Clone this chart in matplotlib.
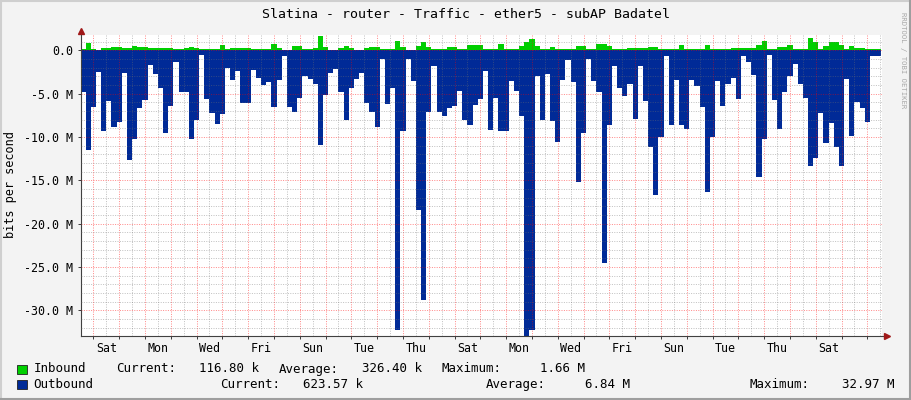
import numpy as np
import matplotlib
matplotlib.use("Agg")
import matplotlib.pyplot as plt
from matplotlib.patches import Rectangle
from matplotlib.lines import Line2D
from matplotlib.ticker import MultipleLocator, FixedLocator, FixedFormatter, FuncFormatter

# -- Data (Mbit/s, one value every ~4.8 h) --
outbound_mbps = [
    4.85, 11.5, 6.5, 2.5, 9.35, 5.8, 8.8, 8.3, 2.6, 12.7, 10.2, 6.7, 5.7, 1.7, 2.7,
    4.3, 9.6, 6.4, 1.35, 4.85, 4.85, 10.2, 8.1, 0.5, 5.6, 7.2, 8.5, 7.4, 2.0, 3.4,
    2.4, 6.1, 6.1, 2.3, 3.2, 4.0, 3.7, 6.5, 3.4, 0.7, 6.5, 7.1, 5.5,
    3.0, 3.3, 3.85, 10.9, 5.2, 2.6, 2.2, 4.85, 8.0, 4.4, 3.3, 2.6, 6.1, 7.15, 8.9,
    1.0, 6.2, 4.4, 32.3, 9.35, 1.0, 3.5, 18.46, 28.85, 7.15, 1.8, 7.15, 7.6, 6.7, 6.4,
    4.65, 8.1, 8.6, 6.35, 5.6, 2.35, 9.15, 5.5, 9.35, 9.35, 3.5, 4.7, 7.6, 32.97, 32.3,
    3.0, 8.1, 2.7, 8.2, 10.6, 3.4, 1.1, 3.7, 15.2, 9.5, 1.0, 3.6, 4.85,
    24.5, 8.6, 1.85, 4.4, 5.3, 3.9, 7.9, 1.8, 5.9, 11.15, 16.65, 10.0, 0.7, 8.6, 3.4,
    8.6, 9.1, 3.4, 4.1, 6.6, 16.4, 10.0, 3.5, 6.45, 3.95, 3.2, 5.6, 0.7, 1.3, 2.9,
    14.65, 10.2, 0.5, 5.7, 9.1, 4.85, 3.0, 1.55, 3.95, 5.5, 13.3, 12.4, 7.2, 10.7, 8.45,
    11.2, 13.4, 3.3, 9.9, 6.0, 6.7, 8.3, 0.7, 0.62,
]
inbound_mbps = [
    0.2, 0.85, 0.2, 0.08, 0.27, 0.27, 0.42, 0.42, 0.3, 0.3, 0.54, 0.35, 0.35, 0.23, 0.23,
    0.27, 0.3, 0.3, 0.15, 0.15, 0.3, 0.38, 0.3, 0.15, 0.15, 0.2, 0.2, 0.58, 0.2, 0.23,
    0.23, 0.27, 0.27, 0.2, 0.2, 0.2, 0.2, 0.73, 0.27, 0.08, 0.08, 0.46, 0.54,
    0.15, 0.2, 0.27, 1.66, 0.35, 0.08, 0.08, 0.27, 0.54, 0.27, 0.08, 0.08, 0.27, 0.42, 0.42,
    0.2, 0.2, 0.2, 1.1, 0.38, 0.08, 0.08, 0.54, 0.92, 0.38, 0.15, 0.15, 0.2, 0.35, 0.35,
    0.2, 0.2, 0.65, 0.65, 0.65, 0.2, 0.15, 0.15, 0.77, 0.15, 0.15, 0.15, 0.54, 1.0, 1.3,
    0.46, 0.15, 0.15, 0.38, 0.2, 0.2, 0.2, 0.2, 0.54, 0.46, 0.15, 0.15, 0.73,
    0.77, 0.54, 0.2, 0.2, 0.2, 0.3, 0.23, 0.23, 0.23, 0.38, 0.35, 0.2, 0.15, 0.15, 0.15,
    0.65, 0.2, 0.2, 0.2, 0.2, 0.65, 0.2, 0.2, 0.2, 0.2, 0.3, 0.23, 0.23, 0.27, 0.27,
    0.65, 1.1, 0.12, 0.12, 0.35, 0.35, 0.58, 0.15, 0.15, 0.2, 1.46, 0.92, 0.2, 0.46, 1.0,
    1.0, 0.58, 0.15, 0.46, 0.27, 0.27, 0.2, 0.12, 0.12,
]
day_labels = ["Sat", "Mon", "Wed", "Fri", "Sun", "Tue", "Thu", "Sat",
              "Mon", "Wed", "Fri", "Sun", "Tue", "Thu", "Sat"]
sample_days = 0.2      # consolidation step
span_days = 31.05      # graph starts Friday noon
y_min, y_max = -32.97, 1.76

title = "Slatina - router - Traffic - ether5 - subAP Badatel"
legend_rows = [
    ("Inbound", "#00CF00", [("Current:", 116, "116.80 k", 259),
                            ("Average:", 279, "326.40 k", 422),
                            ("Maximum:", 441, "1.66 M", 585)]),
    ("Outbound", "#002A97", [("Current:", 220, "623.57 k", 363),
                             ("Average:", 486, "6.84 M", 630),
                             ("Maximum:", 750, "32.97 M", 894)]),
]

# -- figure setup --
W, H = 911, 400
plt.rcParams["font.family"] = "DejaVu Sans Mono"
fig = plt.figure(figsize=(W / 100, H / 100), dpi=100, facecolor="#F3F3F3")


def fx(x):
    return x / W


def fy(y):
    return 1 - y / H


ax = fig.add_axes([fx(80.5), fy(336), 801 / W, 301 / H])
ax.set_facecolor("white")

n = len(outbound_mbps)
edges = np.append(np.arange(n) * sample_days, span_days)
out_vals = -np.append(outbound_mbps, outbound_mbps[-1])
in_vals = np.append(inbound_mbps, inbound_mbps[-1])
ax.fill_between(edges, 0, out_vals, step="post", color="#002A97", lw=0, zorder=1)
ax.fill_between(edges, 0, in_vals, step="post", color="#00CF00", lw=0, zorder=1)

ax.set_xlim(0, span_days)
ax.set_ylim(y_min, y_max)

# grid: red at midnights / 5 M, grey at noons / 1 M (drawn over the areas, translucent)
ax.yaxis.set_major_locator(MultipleLocator(5))
ax.yaxis.set_minor_locator(MultipleLocator(1))
ax.yaxis.set_major_formatter(FuncFormatter(lambda v, p: "0.0" if abs(v) < 1e-9 else f"{v:.1f} M"))
midnights = 0.5 + np.arange(31)
noons = np.arange(1, 32)
ax.xaxis.set_major_locator(FixedLocator(midnights))
ax.xaxis.set_major_formatter(FixedFormatter([""] * len(midnights)))
ax.xaxis.set_minor_locator(FixedLocator(noons))
noon_labels = [day_labels[(d - 1) // 2] if (d - 1) % 2 == 0 and (d - 1) // 2 < len(day_labels) else ""
               for d in noons]
ax.xaxis.set_minor_formatter(FixedFormatter(noon_labels))

dot = (0, (1, 1.4))
ax.grid(which="minor", color="#707070", alpha=0.42, ls=dot, lw=0.72, zorder=2)
ax.grid(which="major", color="#FF0000", alpha=0.45, ls=dot, lw=0.72, zorder=2)
ax.set_axisbelow(False)

for side in ("top", "right"):
    ax.spines[side].set_visible(False)
for side in ("left", "bottom"):
    ax.spines[side].set_color("#404040")
    ax.spines[side].set_linewidth(0.8)

ax.tick_params(which="major", length=2.2, width=0.72, color="#404040",
               labelsize=8.4, pad=3.3)
ax.tick_params(which="minor", length=0)
ax.tick_params(axis="x", which="minor", labelsize=8.4, pad=4.3)

# arrows at the axis ends
ax.add_line(Line2D([1.0, 1.006], [0, 0], transform=ax.transAxes, color="#404040",
                   lw=0.8, clip_on=False))
ax.plot([1.007], [0], marker=">", ms=4, color="#A01818", transform=ax.transAxes,
        clip_on=False)
ax.plot([0], [1.012], marker="^", ms=4, color="#A01818", transform=ax.transAxes,
        clip_on=False)

# texts
fig.text(fx(466), fy(14.5), title, ha="center", va="center", fontsize=9.5)
fig.text(fx(11), fy(185), "bits per second", rotation=90, ha="center", va="center",
         fontsize=8.6)
fig.text(fx(903), fy(60), "RRDTOOL / TOBI OETIKER", rotation=270, ha="center",
         va="center", fontsize=5.2, color="#A8A8A8")

for row, (name, color, items) in enumerate(legend_rows):
    y = 369 + 15.5 * row
    fig.patches.append(Rectangle((fx(17), fy(y + 4.5)), 10 / W, 9 / H,
                                 transform=fig.transFigure, fc=color, ec="#202020", lw=0.6))
    fig.text(fx(33.5), fy(y), name, ha="left", va="center", fontsize=9.0)
    for label, lx, value, vx in items:
        fig.text(fx(lx), fy(y), label, ha="left", va="center", fontsize=9.0)
        fig.text(fx(vx), fy(y), value, ha="right", va="center", fontsize=9.0)

# 3D-ish frame
fig.add_artist(Line2D([0, 1], [fy(1), fy(1)], color="#CFCFCF", lw=1.5))
fig.add_artist(Line2D([fx(1), fx(1)], [0, 1], color="#CFCFCF", lw=1.5))
fig.add_artist(Line2D([0, 1], [fy(399), fy(399)], color="#9E9E9E", lw=1.5))
fig.add_artist(Line2D([fx(910), fx(910)], [0, 1], color="#9E9E9E", lw=1.5))

fig.savefig("out.png", dpi=100, facecolor=fig.get_facecolor())
